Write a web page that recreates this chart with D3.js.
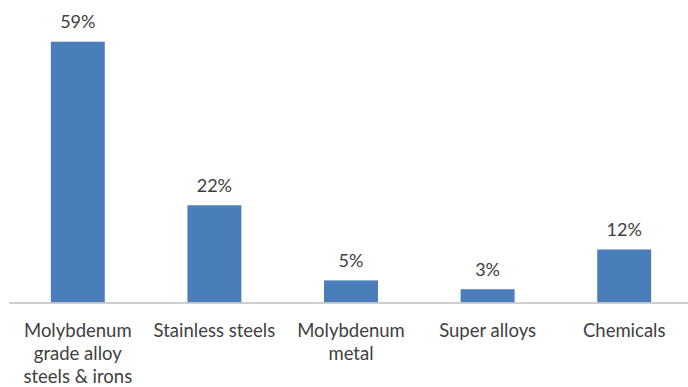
<!DOCTYPE html>
<html>
<head>
<meta charset="utf-8">
<script src="https://cdn.jsdelivr.net/npm/d3@7"></script>
<style>
  html, body { margin: 0; padding: 0; background: #fff; }
  svg { display: block; }
</style>
</head>
<body>
<svg id="chart" width="688" height="387"></svg>
<script>
// Molybdenum end-use shares (%)
const categories = [
  "Molybdenum grade alloy steels & irons",
  "Stainless steels",
  "Molybdenum metal",
  "Super alloys",
  "Chemicals"
];
const shares = [59, 22, 5, 3, 12];
const valueLabels = ["59%", "22%", "5%", "3%", "12%"];

const W = 688, H = 387;
const baseY = 302.5;
const fontFamily = "Lato, 'Open Sans', sans-serif";
const textColor = "#404040";

const svg = d3.select("#chart");

const x = d3.scaleBand()
  .domain(categories)
  .range([9.5, 692.5])
  .paddingInner(0.605)
  .paddingOuter(0.3025);

const y = d3.scaleLinear()
  .domain([0, 59])
  .range([baseY, 41.7]);

// Bars
svg.append("g")
  .selectAll("rect")
  .data(categories)
  .join("rect")
  .attr("x", d => x(d))
  .attr("width", x.bandwidth())
  .attr("y", (d, i) => y(shares[i]))
  .attr("height", (d, i) => baseY - y(shares[i]))
  .attr("fill", "#4a7ebb");

// Category axis (line only, no ticks)
const axis = svg.append("g")
  .attr("transform", `translate(0,${baseY})`)
  .call(d3.axisBottom(x).tickSize(0).tickFormat(""));
axis.select(".domain")
  .attr("d", `M9,0.5H688`)
  .attr("stroke", "#bfbfbf")
  .attr("stroke-width", 1.5);

// Category labels, wrapped to the band width
function wrap(textSel, width) {
  textSel.each(function(d) {
    const text = d3.select(this);
    const words = d.split(/\s+/);
    const lineH = 23;
    let line = [];
    let lineNo = 0;
    let tspan = text.append("tspan").attr("x", 0).attr("dy", 0);
    for (const w of words) {
      line.push(w);
      tspan.text(line.join(" "));
      if (tspan.node().getComputedTextLength() > width && line.length > 1) {
        line.pop();
        tspan.text(line.join(" "));
        line = [w];
        lineNo++;
        tspan = text.append("tspan").attr("x", 0).attr("dy", lineH).text(w);
      }
    }
  });
}

svg.append("g")
  .selectAll("text")
  .data(categories)
  .join("text")
  .attr("transform", d => `translate(${x(d) + x.bandwidth() / 2},${baseY + 34.5})`)
  .attr("text-anchor", "middle")
  .attr("font-family", fontFamily)
  .attr("font-size", 18.5)
  .attr("fill", textColor)
  .call(wrap, 130);

// Value labels above bars
svg.append("g")
  .selectAll("text")
  .data(categories)
  .join("text")
  .attr("x", d => x(d) + x.bandwidth() / 2)
  .attr("y", (d, i) => y(shares[i]) - 13.5)
  .attr("text-anchor", "middle")
  .attr("font-family", fontFamily)
  .attr("font-size", 18)
  .attr("fill", textColor)
  .text((d, i) => valueLabels[i]);
</script>
</body>
</html>
